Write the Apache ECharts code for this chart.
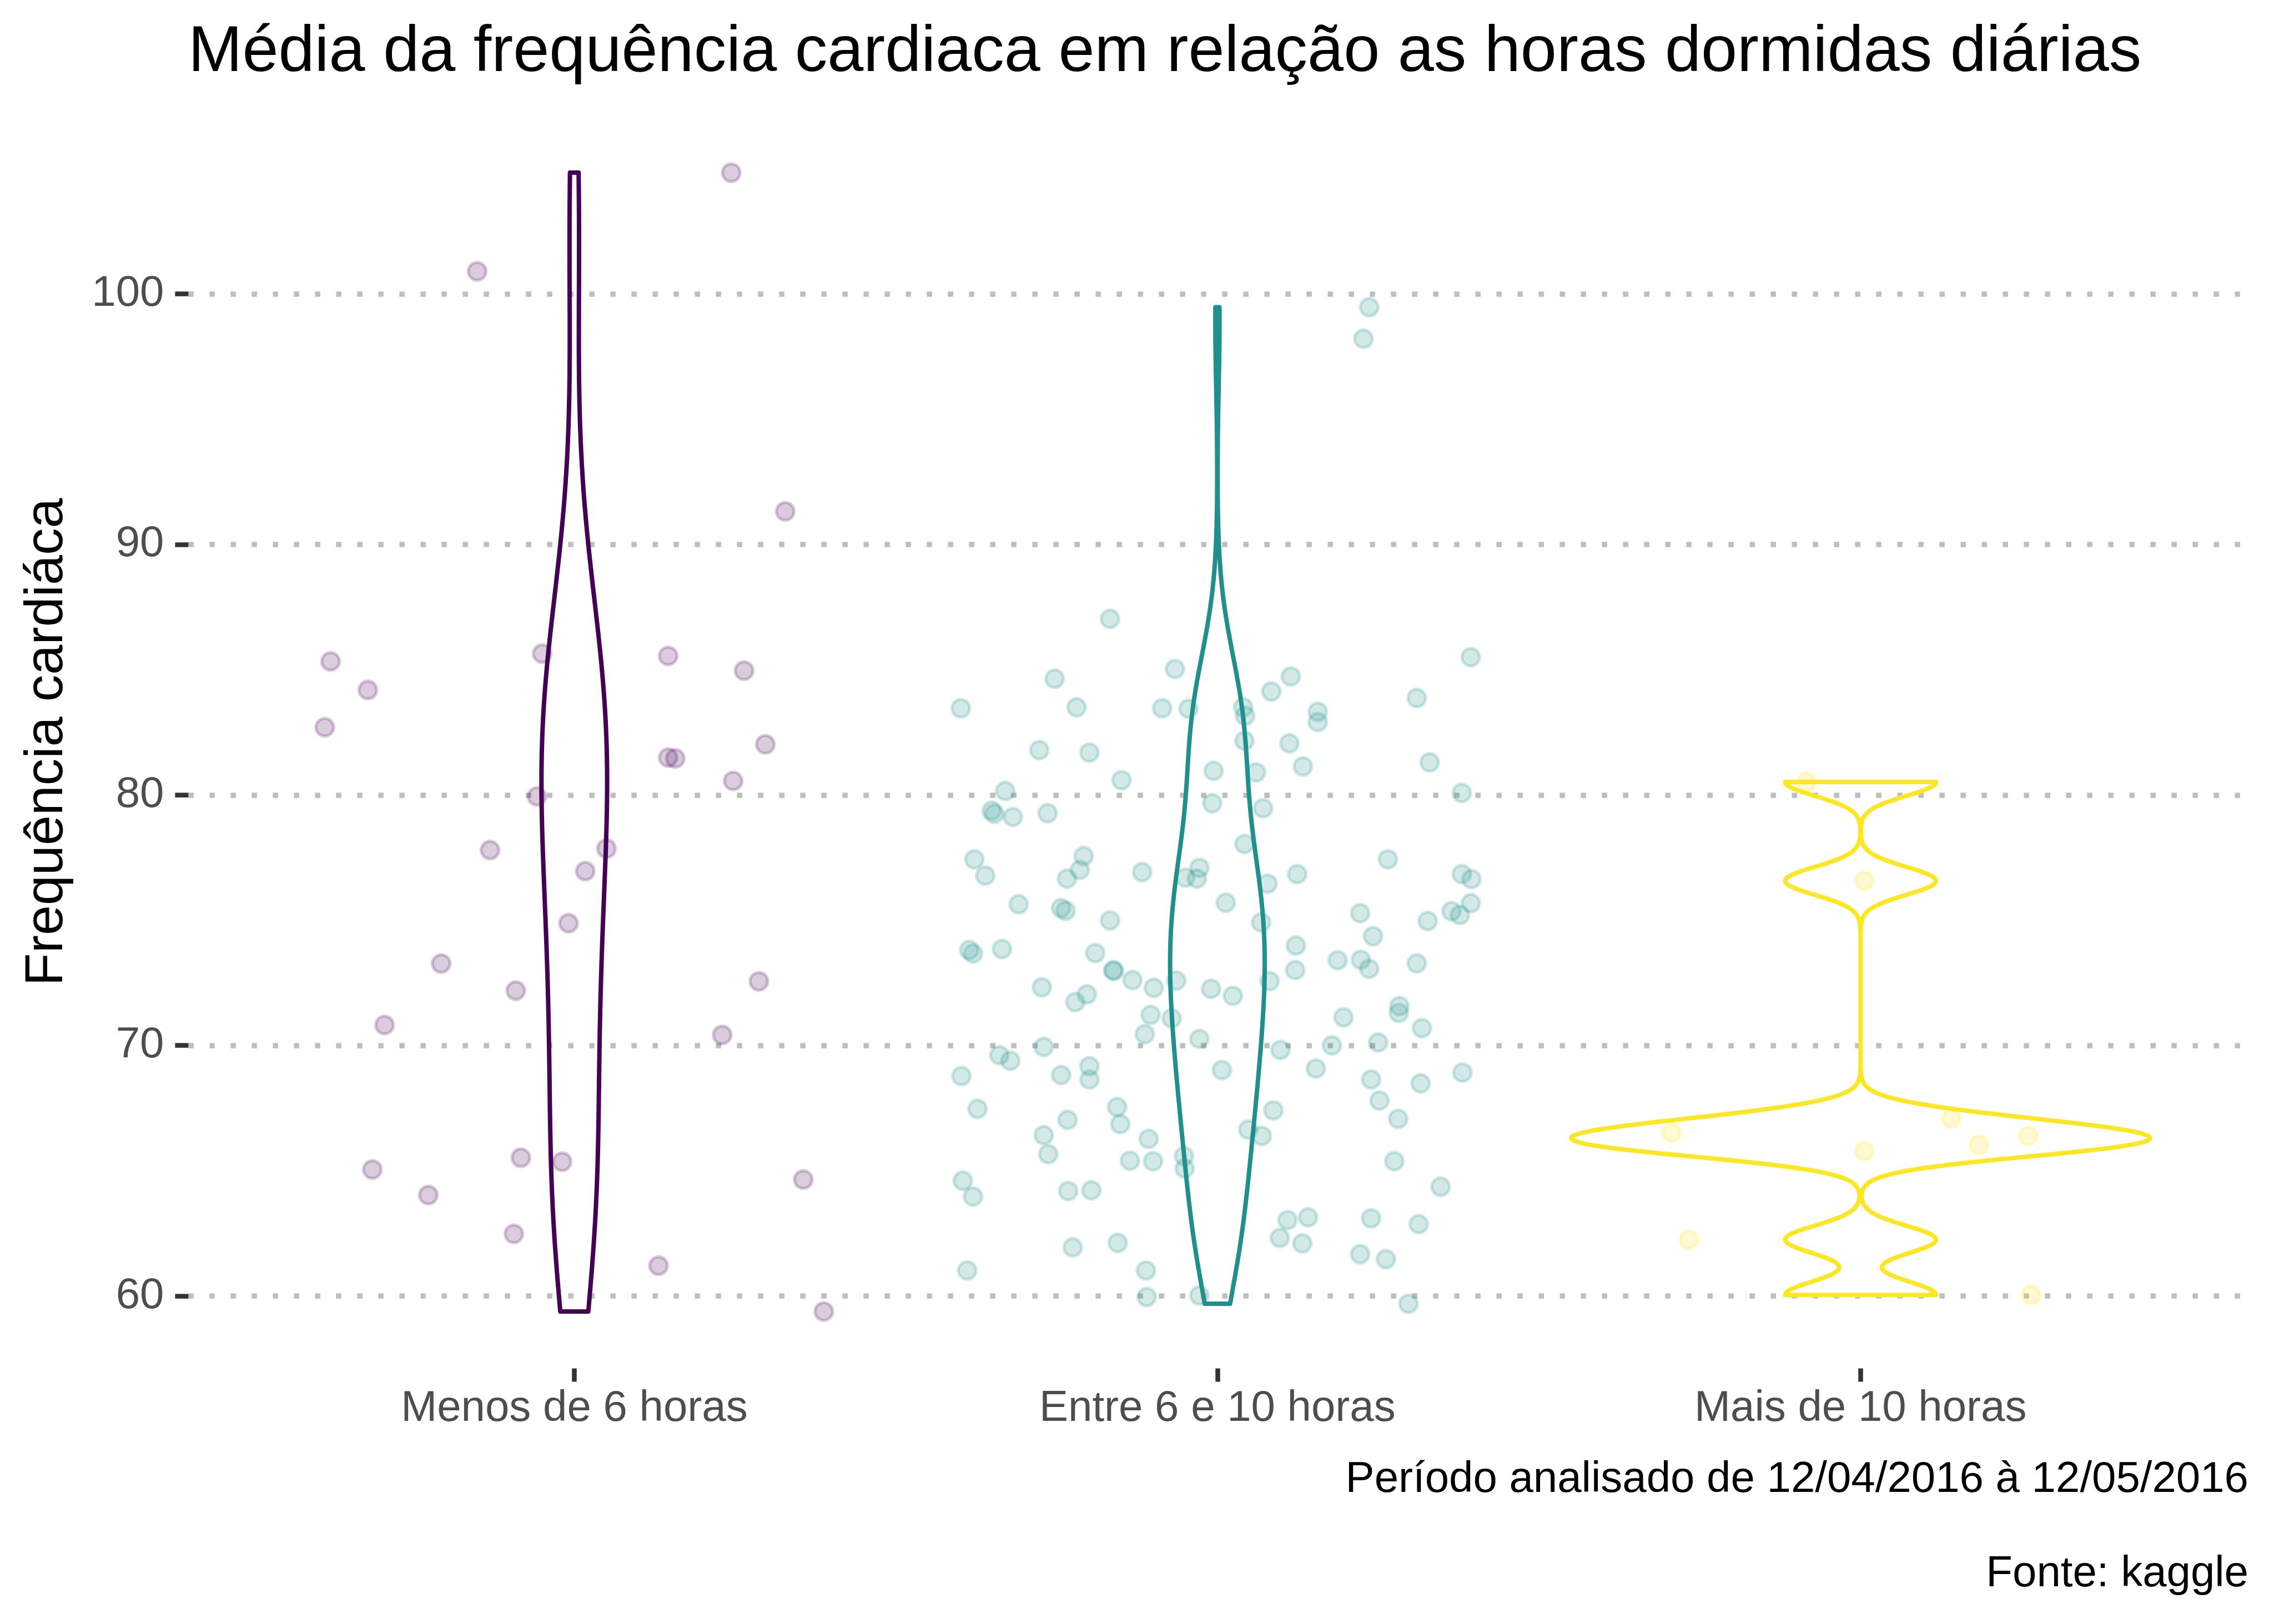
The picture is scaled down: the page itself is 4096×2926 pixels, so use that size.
<!DOCTYPE html>
<html>
<head>
<meta charset="utf-8">
<script src="https://cdn.jsdelivr.net/npm/echarts@6/dist/echarts.min.js"></script>
<style>
html,body{margin:0;padding:0;background:#fff;}
#chart{width:4096px;height:2926px;}
</style>
</head>
<body>
<div id="chart"></div>
<script>
const categories = ['Menos de 6 horas', 'Entre 6 e 10 horas', 'Mais de 10 horas'];
const yTicks = [60, 70, 80, 90, 100];
const groupColors = ['#440154', '#21908C', '#FDE725'];

// jittered points [x, heart rate]
const menosPoints = [
  [1.244,104.84],[0.849,100.90],[1.328,91.32],[0.621,85.33],[0.679,84.19],[0.612,82.70],
  [0.950,85.64],[1.146,85.55],[1.264,84.96],[1.146,81.49],[1.157,81.46],[1.297,82.02],
  [1.247,80.56],[0.942,79.94],[0.869,77.80],[1.050,77.86],[1.017,76.96],[0.991,74.88],
  [0.793,73.27],[0.909,72.19],[1.287,72.56],[0.705,70.82],[1.230,70.42],[0.686,65.05],
  [0.773,64.03],[0.917,65.52],[0.981,65.36],[0.906,62.48],[1.131,61.21],[1.356,64.65],
  [1.388,59.38]
];
const entrePoints = [
  [1.833,87.03],[2.394,85.50],[1.747,84.64],[1.934,85.03],[2.114,84.73],[2.084,84.13],
  [1.601,83.46],[1.781,83.50],[1.914,83.46],[1.955,83.44],[2.040,83.50],[2.043,83.16],
  [2.310,83.87],[2.156,83.32],[2.156,82.91],[1.723,81.79],[1.801,81.69],[2.042,82.16],
  [2.112,82.06],[1.994,80.96],[2.060,80.90],[2.133,81.14],[2.330,81.30],[1.851,80.59],
  [1.670,80.16],[2.380,80.08],[1.649,79.37],[1.653,79.25],[1.682,79.12],[1.736,79.27],
  [1.992,79.67],[2.071,79.47],[2.042,78.04],[1.622,77.43],[1.639,76.78],[1.792,77.56],
  [1.786,77.01],[1.766,76.66],[1.883,76.92],[1.950,76.70],[1.972,77.09],[1.968,76.66],
  [2.078,76.46],[2.124,76.84],[2.265,77.43],[2.380,76.84],[2.395,76.64],[1.691,75.64],
  [1.757,75.48],[1.764,75.38],[2.013,75.70],[2.222,75.28],[2.364,75.36],[2.377,75.21],
  [2.394,75.68],[1.833,74.99],[2.068,74.91],[2.327,74.97],[2.242,74.36],[1.614,73.81],
  [1.620,73.67],[1.665,73.85],[1.810,73.69],[2.122,73.99],[2.121,73.01],[2.187,73.40],
  [2.223,73.42],[2.236,73.06],[2.310,73.28],[1.838,73.01],[1.839,72.97],[1.868,72.61],
  [1.901,72.30],[1.936,72.59],[1.990,72.26],[2.024,71.98],[2.081,72.57],[1.727,72.32],
  [1.779,71.73],[1.797,72.04],[1.896,71.22],[1.929,71.08],[1.887,70.45],[1.972,70.26],
  [2.196,71.12],[2.283,71.57],[2.282,71.30],[2.318,70.69],[2.250,70.12],[2.178,70.00],
  [2.098,69.82],[1.730,69.94],[1.661,69.61],[1.678,69.39],[1.602,68.78],[1.757,68.82],
  [1.801,69.17],[1.801,68.64],[2.007,69.02],[2.153,69.08],[2.239,68.64],[2.316,68.49],
  [2.381,68.92],[1.627,67.47],[1.844,67.54],[1.849,66.86],[1.767,67.03],[2.087,67.41],
  [2.252,67.80],[2.281,67.07],[1.730,66.42],[1.737,65.66],[1.893,66.27],[2.048,66.64],
  [2.069,66.39],[1.864,65.40],[1.900,65.38],[1.948,65.58],[1.949,65.09],[2.275,65.38],
  [1.604,64.60],[1.620,63.97],[1.768,64.19],[1.804,64.22],[2.347,64.36],[2.109,63.03],
  [2.141,63.14],[2.239,63.10],[2.313,62.87],[2.097,62.32],[2.132,62.10],[1.775,61.94],
  [1.845,62.12],[2.222,61.67],[2.262,61.47],[1.611,61.02],[1.889,61.02],[1.890,59.96],
  [1.972,60.02],[2.297,59.69],[2.236,99.47],[2.227,98.21]
];
const maisPoints = [
  [2.916,80.52],[3.006,76.57],[2.706,66.52],[3.141,67.08],[3.006,65.79],
  [3.184,66.03],[3.261,66.39],[2.733,62.25],[3.265,60.04]
];
const groups = [menosPoints, entrePoints, maisPoints];

// ---- violin densities (gaussian KDE, Silverman nrd0 bandwidth, trimmed to data range) ----
function q7(s, p) { const h = (s.length - 1) * p; const lo = Math.floor(h); const hi = Math.min(lo + 1, s.length - 1); return s[lo] + (h - lo) * (s[hi] - s[lo]); }
function bwNrd0(v) {
  const n = v.length, mean = v.reduce((a, b) => a + b, 0) / n;
  const sd = Math.sqrt(v.reduce((a, b) => a + (b - mean) * (b - mean), 0) / (n - 1));
  const s = [...v].sort((a, b) => a - b);
  const lo = Math.min(sd, (q7(s, 0.75) - q7(s, 0.25)) / 1.34);
  return 0.9 * lo * Math.pow(n, -0.2);
}
function kde(v, m) {
  const bw = bwNrd0(v), mn = Math.min(...v), mx = Math.max(...v), out = [];
  for (let i = 0; i < m; i++) {
    const y = mn + (mx - mn) * i / (m - 1);
    let s = 0;
    for (const xi of v) { const z = (y - xi) / bw; s += Math.exp(-0.5 * z * z); }
    out.push([y, s / (v.length * bw * Math.sqrt(2 * Math.PI))]);
  }
  return out;
}
const densities = groups.map(g => kde(g.map(p => p[1]), 512));
const maxDensity = Math.max(...densities.map(d => Math.max(...d.map(r => r[1]))));

const allY = groups.flat().map(p => p[1]);
const yMinData = Math.min(...allY), yMaxData = Math.max(...allY);
const yPad = 0.05 * (yMaxData - yMinData);

const F = 'Liberation Sans, Arial, Helvetica, sans-serif';
const chart = echarts.init(document.getElementById('chart'), null, { renderer: 'canvas' });

const scatterSeries = groups.map((g, i) => {
  const c = echarts.color.modifyAlpha(groupColors[i], 0.2);
  return {
    type: 'scatter', data: g, symbol: 'circle', symbolSize: 32, z: 2,
    itemStyle: { color: c, borderColor: c, borderWidth: 5.7, opacity: 1 },
    emphasis: { disabled: true }, silent: true
  };
});
const violinSeries = densities.map((dens, i) => ({
  type: 'custom', z: 3, silent: true,
  data: [[i + 1, dens[0][0]]],
  renderItem: function (params, api) {
    const xc = i + 1, pts = [];
    for (const [y, d] of dens) pts.push(api.coord([xc - 0.45 * d / maxDensity, y]));
    for (let k = dens.length - 1; k >= 0; k--) { const [y, d] = dens[k]; pts.push(api.coord([xc + 0.45 * d / maxDensity, y])); }
    return { type: 'polygon', shape: { points: pts }, style: { fill: 'none', stroke: groupColors[i], lineWidth: 8, lineJoin: 'round' } };
  }
}));

chart.setOption({
  animation: false,
  backgroundColor: '#ffffff',
  title: [
    { text: 'Média da frequência cardiaca em relação as horas dormidas diárias', left: 339, top: 37, padding: 0,
      textStyle: { fontFamily: F, fontSize: 117, fontWeight: 'normal', color: '#000000' } },
    { text: 'Período analisado de 12/04/2016 à 12/05/2016', right: 46, top: 2627, padding: 0,
      textStyle: { fontFamily: F, fontSize: 78, fontWeight: 'normal', color: '#000000' } },
    { text: 'Fonte: kaggle', right: 46, top: 2797, padding: 0,
      textStyle: { fontFamily: F, fontSize: 78, fontWeight: 'normal', color: '#000000' } }
  ],
  grid: { left: 339.4, right: 49.7, top: 208.5, bottom: 460.4, containLabel: false, outerBoundsMode: 'none' },
  xAxis: {
    type: 'value', min: 0.4, max: 3.6,
    axisLine: { show: false },
    splitLine: { show: false },
    axisTick: { show: true, customValues: [1, 2, 3], length: 24, lineStyle: { color: '#333333', width: 8.5 } },
    axisLabel: { customValues: [1, 2, 3], formatter: v => categories[Math.round(v) - 1], margin: 34,
      fontFamily: F, fontSize: 78, color: '#4D4D4D' }
  },
  yAxis: {
    type: 'value', min: yMinData - yPad, max: yMaxData + yPad,
    name: 'Frequência cardiáca', nameLocation: 'middle', nameGap: 205.6, nameRotate: 90,
    nameTextStyle: { fontFamily: F, fontSize: 97, color: '#000000' },
    axisLine: { show: false },
    axisTick: { show: true, customValues: yTicks, length: 24, lineStyle: { color: '#333333', width: 8.5 } },
    axisLabel: { customValues: yTicks, margin: 44, fontFamily: F, fontSize: 78, color: '#4D4D4D' },
    splitLine: { show: true, lineStyle: { color: '#BEBEBE', width: 9.5, type: [9.5, 28.5], cap: 'butt' } }
  },
  series: [...scatterSeries, ...violinSeries]
});
</script>
</body>
</html>
